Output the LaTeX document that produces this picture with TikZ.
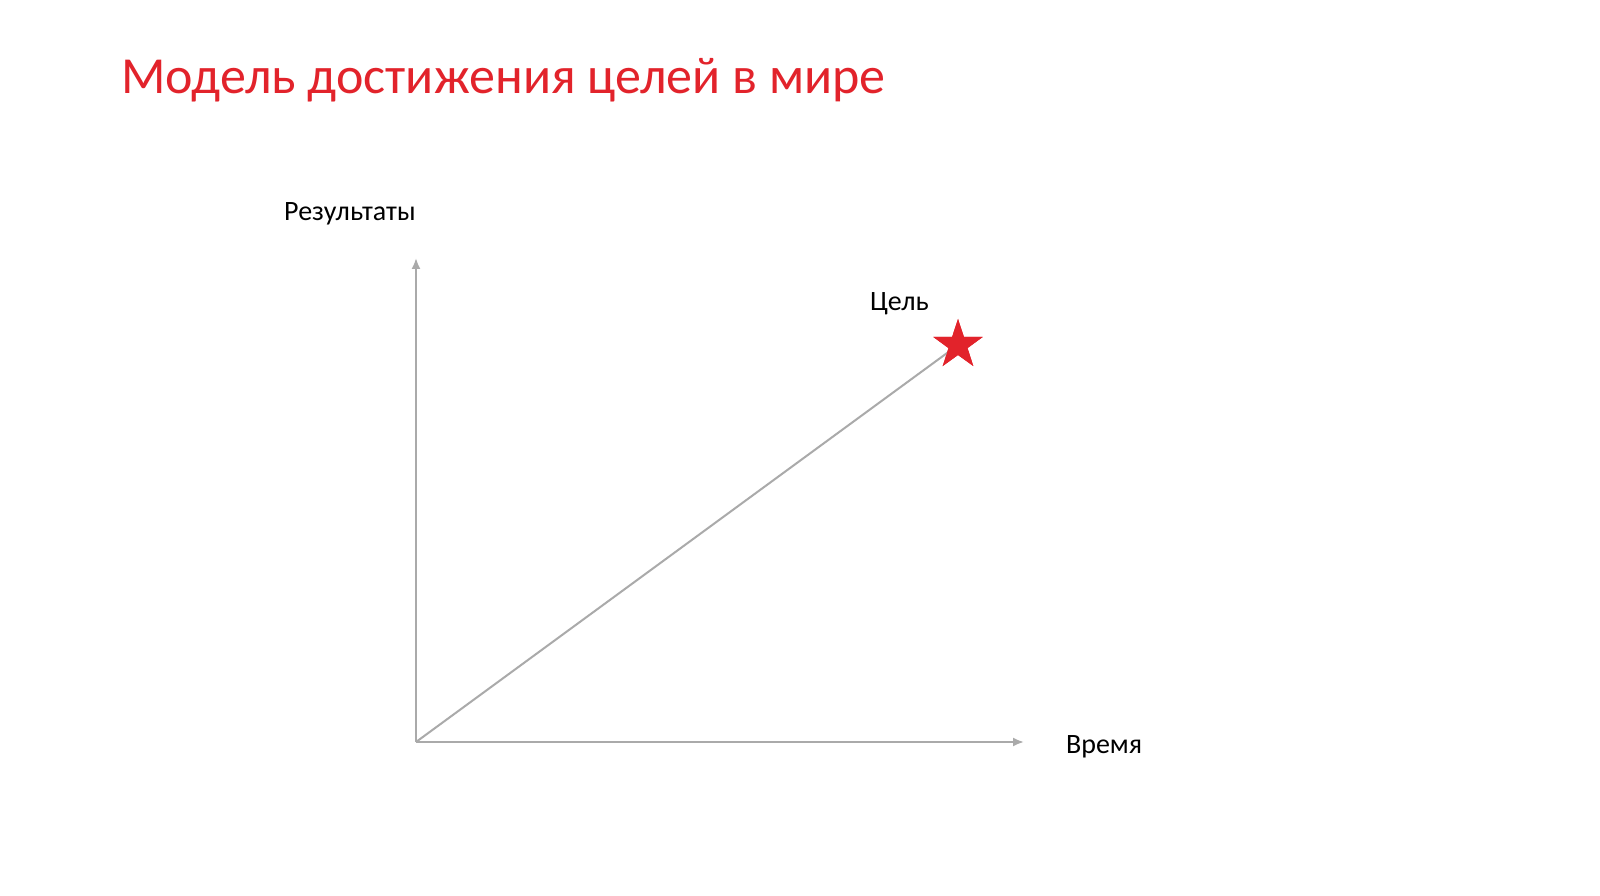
\documentclass[tikz,border=0pt]{standalone}
\usepackage{fontspec}
\setmainfont{Carlito}
\usetikzlibrary{arrows.meta,shapes.geometric}
\definecolor{titlered}{RGB}{226,35,43}
\definecolor{axisgray}{RGB}{170,170,170}
\tikzset{
  axis/.style={draw=axisgray,line width=2pt,-{Latex[length=11pt,width=9pt]}},
  lbl/.style={inner sep=0pt,anchor=base west,font=\fontsize{28}{33}\selectfont,text=black},
  goalstar/.style={star,star points=5,star point ratio=2.6,fill=titlered,inner sep=0pt,minimum size=52pt},
}
\begin{document}
\begin{tikzpicture}[x=1pt,y=1pt]
\useasboundingbox[fill=white] (0,0) rectangle (1600,895);
\node[inner sep=0pt,anchor=base west,font=\fontsize{52}{60}\selectfont,text=titlered] (title) at (121,801) {Модель достижения целей в мире};
\coordinate (o) at (416,153);
\coordinate (ytip) at (416,637);
\coordinate (xtip) at (1024,153);
\node[goalstar] (goal) at (958,550) {};
\draw[axis] (o) -- (ytip);
\draw[axis] (o) -- (xtip);
\draw[draw=axisgray,line width=2pt] (o) -- (goal.center);
\node[goalstar] at (goal.center) {};
\node[lbl] (ylbl) at (284,674) {Результаты};
\node[lbl] (glbl) at (870,584) {Цель};
\node[lbl] (xlbl) at (1066,142) {Время};
\end{tikzpicture}
\end{document}
